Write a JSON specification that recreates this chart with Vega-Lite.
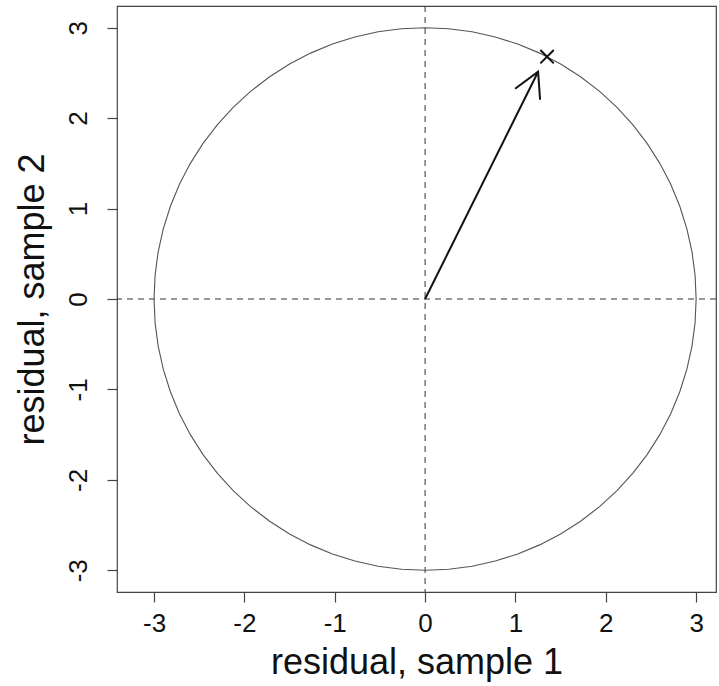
{
  "$schema": "https://vega.github.io/schema/vega-lite/v6.json",
  "width": 599,
  "height": 586,
  "autosize": "none",
  "padding": {"left": 117, "top": 6, "right": 3, "bottom": 94},
  "background": "white",
  "config": {
    "view": {"stroke": "#444", "strokeWidth": 1.2},
    "font": "Liberation Sans",
    "axis": {
      "domain": false,
      "grid": false,
      "ticks": true,
      "tickColor": "#444",
      "tickSize": 10,
      "tickWidth": 1.2,
      "labelFont": "Liberation Sans",
      "labelFontSize": 26,
      "labelColor": "#111",
      "labelExpr": "'' + datum.value",
      "titleFont": "Liberation Sans",
      "titleFontSize": 36,
      "titleFontWeight": "normal",
      "titleColor": "#111"
    }
  },
  "datasets": {
    "circle": [
      {"i": 0, "x": 3.0, "y": 0.0},
      {"i": 1, "x": 2.98858, "y": 0.26147},
      {"i": 2, "x": 2.95442, "y": 0.52094},
      {"i": 3, "x": 2.89778, "y": 0.77646},
      {"i": 4, "x": 2.81908, "y": 1.02606},
      {"i": 5, "x": 2.71892, "y": 1.26785},
      {"i": 6, "x": 2.59808, "y": 1.5},
      {"i": 7, "x": 2.45746, "y": 1.72073},
      {"i": 8, "x": 2.29813, "y": 1.92836},
      {"i": 9, "x": 2.12132, "y": 2.12132},
      {"i": 10, "x": 1.92836, "y": 2.29813},
      {"i": 11, "x": 1.72073, "y": 2.45746},
      {"i": 12, "x": 1.5, "y": 2.59808},
      {"i": 13, "x": 1.26785, "y": 2.71892},
      {"i": 14, "x": 1.02606, "y": 2.81908},
      {"i": 15, "x": 0.77646, "y": 2.89778},
      {"i": 16, "x": 0.52094, "y": 2.95442},
      {"i": 17, "x": 0.26147, "y": 2.98858},
      {"i": 18, "x": 0.0, "y": 3.0},
      {"i": 19, "x": -0.26147, "y": 2.98858},
      {"i": 20, "x": -0.52094, "y": 2.95442},
      {"i": 21, "x": -0.77646, "y": 2.89778},
      {"i": 22, "x": -1.02606, "y": 2.81908},
      {"i": 23, "x": -1.26785, "y": 2.71892},
      {"i": 24, "x": -1.5, "y": 2.59808},
      {"i": 25, "x": -1.72073, "y": 2.45746},
      {"i": 26, "x": -1.92836, "y": 2.29813},
      {"i": 27, "x": -2.12132, "y": 2.12132},
      {"i": 28, "x": -2.29813, "y": 1.92836},
      {"i": 29, "x": -2.45746, "y": 1.72073},
      {"i": 30, "x": -2.59808, "y": 1.5},
      {"i": 31, "x": -2.71892, "y": 1.26785},
      {"i": 32, "x": -2.81908, "y": 1.02606},
      {"i": 33, "x": -2.89778, "y": 0.77646},
      {"i": 34, "x": -2.95442, "y": 0.52094},
      {"i": 35, "x": -2.98858, "y": 0.26147},
      {"i": 36, "x": -3.0, "y": 0.0},
      {"i": 37, "x": -2.98858, "y": -0.26147},
      {"i": 38, "x": -2.95442, "y": -0.52094},
      {"i": 39, "x": -2.89778, "y": -0.77646},
      {"i": 40, "x": -2.81908, "y": -1.02606},
      {"i": 41, "x": -2.71892, "y": -1.26785},
      {"i": 42, "x": -2.59808, "y": -1.5},
      {"i": 43, "x": -2.45746, "y": -1.72073},
      {"i": 44, "x": -2.29813, "y": -1.92836},
      {"i": 45, "x": -2.12132, "y": -2.12132},
      {"i": 46, "x": -1.92836, "y": -2.29813},
      {"i": 47, "x": -1.72073, "y": -2.45746},
      {"i": 48, "x": -1.5, "y": -2.59808},
      {"i": 49, "x": -1.26785, "y": -2.71892},
      {"i": 50, "x": -1.02606, "y": -2.81908},
      {"i": 51, "x": -0.77646, "y": -2.89778},
      {"i": 52, "x": -0.52094, "y": -2.95442},
      {"i": 53, "x": -0.26147, "y": -2.98858},
      {"i": 54, "x": 0.0, "y": -3.0},
      {"i": 55, "x": 0.26147, "y": -2.98858},
      {"i": 56, "x": 0.52094, "y": -2.95442},
      {"i": 57, "x": 0.77646, "y": -2.89778},
      {"i": 58, "x": 1.02606, "y": -2.81908},
      {"i": 59, "x": 1.26785, "y": -2.71892},
      {"i": 60, "x": 1.5, "y": -2.59808},
      {"i": 61, "x": 1.72073, "y": -2.45746},
      {"i": 62, "x": 1.92836, "y": -2.29813},
      {"i": 63, "x": 2.12132, "y": -2.12132},
      {"i": 64, "x": 2.29813, "y": -1.92836},
      {"i": 65, "x": 2.45746, "y": -1.72073},
      {"i": 66, "x": 2.59808, "y": -1.5},
      {"i": 67, "x": 2.71892, "y": -1.26785},
      {"i": 68, "x": 2.81908, "y": -1.02606},
      {"i": 69, "x": 2.89778, "y": -0.77646},
      {"i": 70, "x": 2.95442, "y": -0.52094},
      {"i": 71, "x": 2.98858, "y": -0.26147},
      {"i": 72, "x": 3.0, "y": 0.0}
    ],
    "arrow": [
      {"seg": "shaft", "i": 0, "x": 0.0, "y": 0.0},
      {"seg": "shaft", "i": 1, "x": 1.251, "y": 2.513},
      {"seg": "head", "i": 0, "x": 0.996, "y": 2.325},
      {"seg": "head", "i": 1, "x": 1.251, "y": 2.513},
      {"seg": "head", "i": 2, "x": 1.273, "y": 2.203}
    ],
    "pointx": [{"x": 1.35, "y": 2.68}],
    "zero": [{"v": 0}]
  },
  "layer": [
    {
      "data": {"name": "zero"},
      "mark": {"type": "rule", "color": "#333", "strokeWidth": 1, "strokeDash": [6, 5]},
      "encoding": {
        "y": {"field": "v", "type": "quantitative", "scale": {"domain": [-3.24, 3.24], "nice": false, "zero": false},
          "axis": {"values": [-3, -2, -1, 0, 1, 2, 3], "labelAngle": -90, "labelAlign": "center", "labelBaseline": "bottom", "labelPadding": 16, "title": "residual, sample 2", "titlePadding": 14}}
      }
    },
    {
      "data": {"name": "zero"},
      "mark": {"type": "rule", "color": "#333", "strokeWidth": 1, "strokeDash": [6, 5]},
      "encoding": {
        "x": {"field": "v", "type": "quantitative", "scale": {"domain": [-3.41, 3.22], "nice": false, "zero": false},
          "axis": {"values": [-3, -2, -1, 0, 1, 2, 3], "labelPadding": 8, "title": "residual, sample 1", "titlePadding": 9}}
      }
    },
    {
      "data": {"name": "circle"},
      "mark": {"type": "line", "color": "#555", "strokeWidth": 1.1},
      "encoding": {
        "x": {"field": "x", "type": "quantitative"},
        "y": {"field": "y", "type": "quantitative"},
        "order": {"field": "i", "type": "quantitative"}
      }
    },
    {
      "data": {"name": "arrow"},
      "mark": {"type": "line", "color": "#111", "strokeWidth": 2},
      "encoding": {
        "x": {"field": "x", "type": "quantitative"},
        "y": {"field": "y", "type": "quantitative"},
        "detail": {"field": "seg"},
        "order": {"field": "i", "type": "quantitative"}
      }
    },
    {
      "data": {"name": "pointx"},
      "mark": {"type": "point", "shape": "M-1,-1L1,1M1,-1L-1,1", "filled": false, "color": "#111", "strokeWidth": 2, "size": 180, "opacity": 1},
      "encoding": {
        "x": {"field": "x", "type": "quantitative"},
        "y": {"field": "y", "type": "quantitative"}
      }
    }
  ]
}
